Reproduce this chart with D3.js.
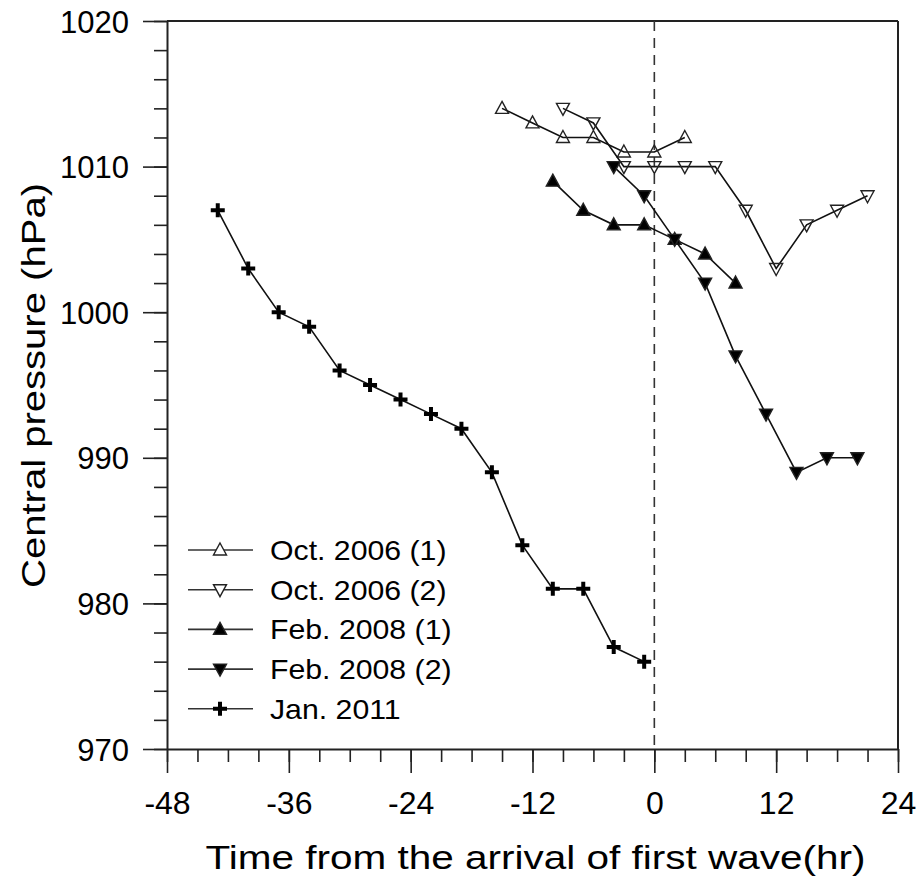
<!DOCTYPE html>
<html>
<head>
<meta charset="utf-8">
<script src="https://cdn.jsdelivr.net/npm/d3@7"></script>
<style>
  body { margin: 0; background: #fff; }
  svg text { font-family: "Liberation Sans", Arial, sans-serif; fill: #000; }
</style>
</head>
<body>
<svg id="chart" width="917" height="882"></svg>
<script>
// series (hours, hPa)
const oct2006a_t = [-15, -12, -9, -6, -3, 0, 3];
const oct2006a_p = [1014, 1013, 1012, 1012, 1011, 1011, 1012];

const oct2006b_t = [-9, -6, -3, 0, 3, 6, 9, 12, 15, 18, 21];
const oct2006b_p = [1014, 1013, 1010, 1010, 1010, 1010, 1007, 1003, 1006, 1007, 1008];

const feb2008a_t = [-10, -7, -4, -1, 2, 5, 8];
const feb2008a_p = [1009, 1007, 1006, 1006, 1005, 1004, 1002];

const feb2008b_t = [-4, -1, 2, 5, 8, 11, 14, 17, 20];
const feb2008b_p = [1010, 1008, 1005, 1002, 997, 993, 989, 990, 990];

const jan2011_t = [-43, -40, -37, -34, -31, -28, -25, -22, -19, -16, -13, -10, -7, -4, -1];
const jan2011_p = [1007, 1003, 1000, 999, 996, 995, 994, 993, 992, 989, 984, 981, 981, 977, 976];

const xTicks = [-48, -36, -24, -12, 0, 12, 24];
const yTicks = [970, 980, 990, 1000, 1010, 1020];

const seriesList = [
  { name: "Oct. 2006 (1)", t: oct2006a_t, p: oct2006a_p, marker: "up", fill: "none" },
  { name: "Oct. 2006 (2)", t: oct2006b_t, p: oct2006b_p, marker: "down", fill: "none" },
  { name: "Feb. 2008 (1)", t: feb2008a_t, p: feb2008a_p, marker: "up", fill: "#000" },
  { name: "Feb. 2008 (2)", t: feb2008b_t, p: feb2008b_p, marker: "down", fill: "#000" },
  { name: "Jan. 2011", t: jan2011_t, p: jan2011_p, marker: "cross", fill: "#000" },
];

const svg = d3.select("#chart");
const plotL = 167, plotR = 898, plotT = 21, plotB = 749;

const x = d3.scaleLinear().domain([-48, 24]).range([plotL, plotR]);
const y = d3.scaleLinear().domain([970, 1020]).range([plotB, plotT]);

// minor ticks first, then major ticks with labels
svg.append("g")
  .attr("transform", `translate(0,${plotB})`)
  .call(d3.axisBottom(x).tickValues(d3.range(-48, 25, 3)).tickSize(13).tickSizeOuter(0).tickFormat(""))
  .call(g => g.select(".domain").remove());
svg.append("g")
  .attr("transform", `translate(${plotL},0)`)
  .call(d3.axisLeft(y).tickValues(d3.range(970, 1021, 2)).tickSize(13).tickSizeOuter(0).tickFormat(""))
  .call(g => g.select(".domain").remove());

const xAxis = svg.append("g")
  .attr("transform", `translate(0,${plotB})`)
  .call(d3.axisBottom(x).tickValues(xTicks).tickSize(24).tickSizeOuter(0).tickPadding(18)
    .tickFormat(d => d < 0 ? "-" + Math.abs(d) : String(d)));
const yAxis = svg.append("g")
  .attr("transform", `translate(${plotL},0)`)
  .call(d3.axisLeft(y).tickValues(yTicks).tickSize(24).tickSizeOuter(0).tickPadding(14)
    .tickFormat(d3.format("d")));

svg.selectAll(".tick line").attr("stroke", "#222").attr("stroke-width", 1.6);
svg.selectAll(".domain").attr("stroke", "#222").attr("stroke-width", 2);
xAxis.selectAll(".tick text").attr("font-size", 32).attr("font-family", "Liberation Sans, Arial, sans-serif");
yAxis.selectAll(".tick text").attr("font-size", 31).attr("font-family", "Liberation Sans, Arial, sans-serif").attr("dy", "0.36em");

// frame top / right
svg.append("line").attr("x1", plotL).attr("x2", plotR).attr("y1", plotT).attr("y2", plotT)
  .attr("stroke", "#222").attr("stroke-width", 2);
svg.append("line").attr("x1", plotR).attr("x2", plotR).attr("y1", plotT).attr("y2", plotB)
  .attr("stroke", "#222").attr("stroke-width", 2);

// arrival line
svg.append("line").attr("x1", x(0)).attr("x2", x(0)).attr("y1", plotT).attr("y2", plotB)
  .attr("stroke", "#333").attr("stroke-width", 1.6).attr("stroke-dasharray", "10,7");

function markerPath(type) {
  if (type === "up") return "M0,-7L6.5,5L-6.5,5Z";
  if (type === "down") return "M0,7L6.5,-5L-6.5,-5Z";
  return "M-7,0H7M0,-7V7";
}

function drawMarker(g, type, fill) {
  if (type === "cross") {
    g.append("path").attr("d", markerPath(type)).attr("stroke", "#000").attr("stroke-width", 4).attr("fill", "none");
  } else {
    g.append("path").attr("d", markerPath(type)).attr("stroke", "#222").attr("stroke-width", 1.4).attr("fill", fill);
  }
}

const line = d3.line().x(d => x(d[0])).y(d => y(d[1]));

seriesList.forEach(s => {
  const pts = s.t.map((t, i) => [t, s.p[i]]);
  svg.append("path").datum(pts).attr("d", line)
    .attr("fill", "none").attr("stroke", "#111").attr("stroke-width", 1.6);
  pts.forEach(d => {
    const g = svg.append("g").attr("transform", `translate(${x(d[0])},${y(d[1])})`);
    drawMarker(g, s.marker, s.fill);
  });
});

// legend
const legend = svg.append("g");
seriesList.forEach((s, i) => {
  const cy = 550 + i * 39.7;
  legend.append("line").attr("x1", 188).attr("x2", 253).attr("y1", cy).attr("y2", cy)
    .attr("stroke", "#333").attr("stroke-width", 1.6);
  const g = legend.append("g").attr("transform", `translate(220,${cy})`);
  if (s.fill === "none") {
    g.append("path").attr("d", markerPath(s.marker)).attr("fill", "#fff");
  }
  drawMarker(g, s.marker, s.fill);
  const t = legend.append("text").attr("x", 270).attr("y", cy).attr("dy", "0.36em")
    .attr("font-size", 28).text(s.name);
  const w = t.node().getComputedTextLength();
  t.attr("textLength", w * 1.08).attr("lengthAdjust", "spacingAndGlyphs");
});

// axis titles (the original face is wider than Arial, so stretch to the measured length)
svg.append("text").attr("x", 535.5).attr("y", 869)
  .attr("text-anchor", "middle").attr("font-size", 34)
  .attr("textLength", 660).attr("lengthAdjust", "spacingAndGlyphs")
  .text("Time from the arrival of first wave(hr)");
svg.append("text").attr("transform", `translate(45,385.5) rotate(-90)`)
  .attr("text-anchor", "middle").attr("font-size", 34)
  .attr("textLength", 405).attr("lengthAdjust", "spacingAndGlyphs")
  .text("Central pressure (hPa)");
</script>
</body>
</html>
